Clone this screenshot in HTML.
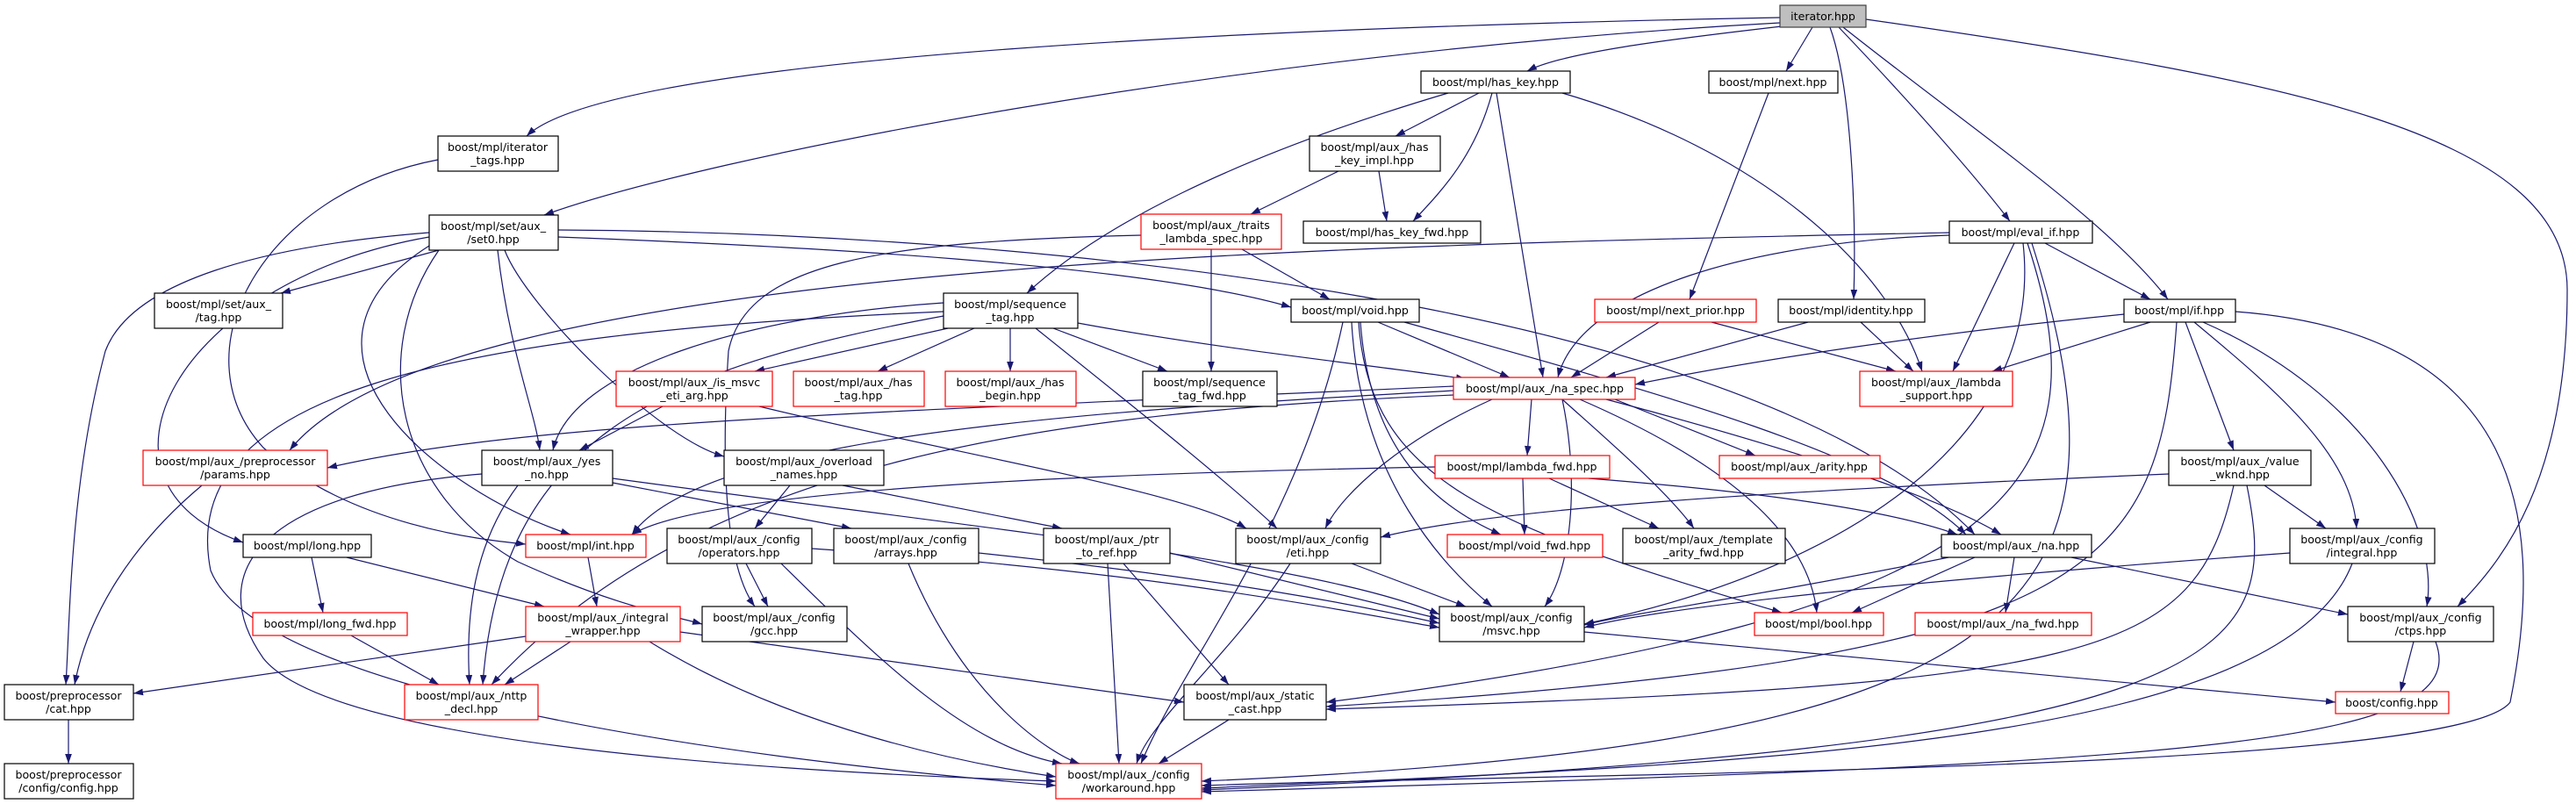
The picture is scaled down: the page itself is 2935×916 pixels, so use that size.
<!DOCTYPE html>
<html><head><meta charset="utf-8">
<style>
html,body{margin:0;padding:0;background:#fff;}
svg{display:block;}
text{font-family:"DejaVu Sans","Liberation Sans",sans-serif;font-size:12.6px;fill:#000;text-anchor:middle;}
#edges path{fill:none;stroke:#191970;stroke-width:1.2;marker-end:url(#ah);}
</style></head>
<body>
<svg xmlns="http://www.w3.org/2000/svg" width="2935" height="916" viewBox="0 0 2935 916">
<defs><marker id="ah" viewBox="0 0 10 7" refX="10" refY="3.5" markerWidth="11" markerHeight="8" markerUnits="userSpaceOnUse" orient="auto"><polygon points="0,0 10,3.5 0,7" fill="#191970"/></marker></defs>
<rect width="2935" height="916" fill="#fff"/>
<g id="edges">
<path d="M2028,20 C1500,30 700,60 600,155"/>
<path d="M2028,26 C1400,60 800,180 620,245"/>
<path d="M2030,30 C1900,45 1780,60 1740,81"/>
<path d="M2065,31 L2035,81"/>
<path d="M2085,31 C2110,100 2115,250 2112,341"/>
<path d="M2095,31 C2180,120 2250,200 2290,252"/>
<path d="M2100,31 C2250,150 2400,250 2470,341"/>
<path d="M2126,22 C2600,90 2925,150 2925,330 C2925,550 2850,640 2800,691"/>
<path d="M499,182 C300,220 200,400 300,510 C400,600 550,615 599,620"/>
<path d="M500,285 L320,334"/>
<path d="M567,285 C580,400 610,470 615,513"/>
<path d="M489,265 C300,280 150,320 120,400 C80,550 80,700 75,780"/>
<path d="M489,270 C200,320 80,550 277,618"/>
<path d="M575,285 C600,350 750,500 825,520"/>
<path d="M636,270 C900,280 1300,300 1471,350"/>
<path d="M636,262 C1200,265 2000,350 2250,609"/>
<path d="M500,285 C420,400 450,560 590,640 C700,690 760,700 800,711"/>
<path d="M489,280 C300,400 500,560 650,609"/>
<path d="M1685,106 L1590,155"/>
<path d="M1700,106 C1680,180 1640,220 1610,252"/>
<path d="M1705,106 L1758,430"/>
<path d="M1650,106 C1400,180 1250,260 1170,334"/>
<path d="M1780,106 C2000,170 2150,300 2190,423"/>
<path d="M1525,195 L1425,244"/>
<path d="M1571,195 L1580,252"/>
<path d="M1415,284 L1515,341"/>
<path d="M1380,284 L1380,423"/>
<path d="M1300,268 C1000,275 850,300 830,400 C820,550 830,650 860,691"/>
<path d="M2015,106 L1925,341"/>
<path d="M1890,367 L1790,430"/>
<path d="M1950,367 L2160,423"/>
<path d="M2060,367 L1830,430"/>
<path d="M2120,367 L2180,423"/>
<path d="M2330,277 L2450,341"/>
<path d="M2295,277 L2225,423"/>
<path d="M2221,268 C2000,275 1800,330 1775,430"/>
<path d="M2221,265 C1500,280 500,300 330,513"/>
<path d="M2305,277 C2330,500 2100,650 1805,711"/>
<path d="M2310,277 C2400,550 2300,700 1511,800"/>
<path d="M2315,277 C2450,700 2300,850 1369,890"/>
<path d="M2420,358 C2200,380 2000,410 1863,438"/>
<path d="M2450,367 L2270,423"/>
<path d="M2490,367 L2545,513"/>
<path d="M2500,367 C2600,450 2680,520 2685,602"/>
<path d="M2510,367 C2700,450 2780,600 2765,691"/>
<path d="M2480,367 C2460,650 2400,750 1511,805"/>
<path d="M2547,355 C2880,380 2900,600 2860,800 C2800,880 1800,880 1369,895"/>
<path d="M1110,374 L1000,423"/>
<path d="M1151,374 L1151,423"/>
<path d="M1200,374 L1330,423"/>
<path d="M1228,368 C1400,400 1600,420 1670,432"/>
<path d="M1080,374 L860,423"/>
<path d="M1075,345 C850,360 650,420 630,513"/>
<path d="M1180,374 C1300,470 1400,550 1455,602"/>
<path d="M1075,360 C750,420 570,500 550,780"/>
<path d="M1075,355 C500,380 200,450 240,650 C300,800 900,870 1203,895"/>
<path d="M1570,367 L1720,430"/>
<path d="M1550,367 C1560,500 1620,570 1710,609"/>
<path d="M1548,367 C1560,550 1700,600 2030,698"/>
<path d="M1530,367 C1480,600 1350,750 1300,870"/>
<path d="M1600,367 C1900,450 2150,520 2240,609"/>
<path d="M1540,367 C1550,550 1650,650 1700,691"/>
<path d="M755,463 L660,513"/>
<path d="M865,463 C1100,520 1350,560 1420,602"/>
<path d="M1656,440 C1000,470 600,480 373,533"/>
<path d="M1840,455 L2000,519"/>
<path d="M1745,455 L1740,519"/>
<path d="M1780,455 C1830,500 1900,560 1930,602"/>
<path d="M1700,455 C1600,500 1530,560 1510,602"/>
<path d="M1800,455 C1950,520 2060,600 2070,698"/>
<path d="M1830,455 C2000,500 2200,560 2280,609"/>
<path d="M1656,445 C1200,470 800,500 720,609"/>
<path d="M1780,455 C1800,550 1790,650 1760,691"/>
<path d="M1656,450 C1200,470 800,520 560,780"/>
<path d="M1735,545 L1737,609"/>
<path d="M1765,545 L1890,602"/>
<path d="M1810,545 C2000,560 2150,580 2230,609"/>
<path d="M1635,532 C1200,540 800,560 720,609"/>
<path d="M590,553 C540,620 530,700 535,780"/>
<path d="M698,545 C1100,600 1500,640 1640,700"/>
<path d="M698,550 L970,602"/>
<path d="M549,540 C300,560 230,650 300,750 C380,850 900,880 1203,890"/>
<path d="M900,553 L860,602"/>
<path d="M960,553 L1210,602"/>
<path d="M230,553 C150,620 100,700 85,780"/>
<path d="M355,635 L368,698"/>
<path d="M395,635 L620,691"/>
<path d="M670,635 L680,691"/>
<path d="M2471,540 C2000,560 1700,580 1573,612"/>
<path d="M2580,553 L2650,602"/>
<path d="M2545,553 C2500,750 2400,780 1511,808"/>
<path d="M2560,553 C2600,750 2550,850 1369,900"/>
<path d="M599,725 L152,790"/>
<path d="M650,731 L575,780"/>
<path d="M775,720 L1349,800"/>
<path d="M740,731 C900,830 1100,870 1203,885"/>
<path d="M850,642 L875,691"/>
<path d="M925,625 C1300,650 1500,690 1640,715"/>
<path d="M890,642 C1000,750 1100,850 1210,870"/>
<path d="M1115,630 C1400,660 1550,690 1640,710"/>
<path d="M1035,642 C1100,800 1200,860 1230,870"/>
<path d="M1333,630 L1640,705"/>
<path d="M1280,642 L1400,780"/>
<path d="M1262,642 L1275,870"/>
<path d="M1540,642 L1670,691"/>
<path d="M1470,642 C1400,750 1310,820 1295,870"/>
<path d="M2250,635 L2110,698"/>
<path d="M2295,635 L2285,698"/>
<path d="M2360,635 L2675,700"/>
<path d="M2220,635 C2000,680 1850,700 1805,712"/>
<path d="M2609,630 C2200,660 1900,690 1805,715"/>
<path d="M2680,642 C2600,850 2000,870 1369,898"/>
<path d="M1805,720 L2661,800"/>
<path d="M2750,731 L2735,788"/>
<path d="M2775,731 C2820,850 2500,870 1369,902"/>
<path d="M1400,820 L1320,870"/>
<path d="M400,724 L500,780"/>
<path d="M78,820 L78,870"/>
</g>
<g id="nodes">
<rect x="2028" y="6" width="98" height="25" fill="#bfbfbf" stroke="#404040" stroke-width="1.2"/><text x="2077" y="23">iterator.hpp</text>
<rect x="499" y="155" width="137" height="40" fill="#fff" stroke="#000" stroke-width="1.2"/><text x="567" y="172">boost/mpl/iterator</text><text x="567" y="187">_tags.hpp</text>
<rect x="489" y="245" width="147" height="40" fill="#fff" stroke="#000" stroke-width="1.2"/><text x="562" y="262">boost/mpl/set/aux_</text><text x="562" y="277">/set0.hpp</text>
<rect x="176" y="334" width="146" height="40" fill="#fff" stroke="#000" stroke-width="1.2"/><text x="249" y="351">boost/mpl/set/aux_</text><text x="249" y="366">/tag.hpp</text>
<rect x="702" y="423" width="178" height="40" fill="#fff" stroke="#f00" stroke-width="1.2"/><text x="791" y="440">boost/mpl/aux_/is_msvc</text><text x="791" y="455">_eti_arg.hpp</text>
<rect x="904" y="423" width="149" height="40" fill="#fff" stroke="#f00" stroke-width="1.2"/><text x="978" y="440">boost/mpl/aux_/has</text><text x="978" y="455">_tag.hpp</text>
<rect x="1619" y="81" width="170" height="25" fill="#fff" stroke="#000" stroke-width="1.2"/><text x="1704" y="98">boost/mpl/has_key.hpp</text>
<rect x="1947" y="81" width="147" height="25" fill="#fff" stroke="#000" stroke-width="1.2"/><text x="2020" y="98">boost/mpl/next.hpp</text>
<rect x="1492" y="155" width="149" height="40" fill="#fff" stroke="#000" stroke-width="1.2"/><text x="1566" y="172">boost/mpl/aux_/has</text><text x="1566" y="187">_key_impl.hpp</text>
<rect x="1300" y="244" width="160" height="40" fill="#fff" stroke="#f00" stroke-width="1.2"/><text x="1380" y="261">boost/mpl/aux_/traits</text><text x="1380" y="276">_lambda_spec.hpp</text>
<rect x="1485" y="252" width="202" height="25" fill="#fff" stroke="#000" stroke-width="1.2"/><text x="1586" y="269">boost/mpl/has_key_fwd.hpp</text>
<rect x="1075" y="334" width="153" height="40" fill="#fff" stroke="#000" stroke-width="1.2"/><text x="1151" y="351">boost/mpl/sequence</text><text x="1151" y="366">_tag.hpp</text>
<rect x="1471" y="341" width="146" height="26" fill="#fff" stroke="#000" stroke-width="1.2"/><text x="1544" y="358">boost/mpl/void.hpp</text>
<rect x="1817" y="341" width="184" height="26" fill="#fff" stroke="#f00" stroke-width="1.2"/><text x="1909" y="358">boost/mpl/next_prior.hpp</text>
<rect x="1077" y="423" width="149" height="40" fill="#fff" stroke="#f00" stroke-width="1.2"/><text x="1151" y="440">boost/mpl/aux_/has</text><text x="1151" y="455">_begin.hpp</text>
<rect x="1302" y="423" width="153" height="40" fill="#fff" stroke="#000" stroke-width="1.2"/><text x="1378" y="440">boost/mpl/sequence</text><text x="1378" y="455">_tag_fwd.hpp</text>
<rect x="1656" y="430" width="207" height="25" fill="#fff" stroke="#f00" stroke-width="1.2"/><text x="1760" y="447">boost/mpl/aux_/na_spec.hpp</text>
<rect x="2221" y="252" width="163" height="25" fill="#fff" stroke="#000" stroke-width="1.2"/><text x="2302" y="269">boost/mpl/eval_if.hpp</text>
<rect x="2026" y="341" width="167" height="26" fill="#fff" stroke="#000" stroke-width="1.2"/><text x="2109" y="358">boost/mpl/identity.hpp</text>
<rect x="2420" y="341" width="127" height="26" fill="#fff" stroke="#000" stroke-width="1.2"/><text x="2483" y="358">boost/mpl/if.hpp</text>
<rect x="2119" y="423" width="174" height="40" fill="#fff" stroke="#f00" stroke-width="1.2"/><text x="2206" y="440">boost/mpl/aux_/lambda</text><text x="2206" y="455">_support.hpp</text>
<rect x="163" y="513" width="210" height="40" fill="#fff" stroke="#f00" stroke-width="1.2"/><text x="268" y="530">boost/mpl/aux_/preprocessor</text><text x="268" y="545">/params.hpp</text>
<rect x="549" y="513" width="149" height="40" fill="#fff" stroke="#000" stroke-width="1.2"/><text x="623" y="530">boost/mpl/aux_/yes</text><text x="623" y="545">_no.hpp</text>
<rect x="825" y="513" width="182" height="40" fill="#fff" stroke="#000" stroke-width="1.2"/><text x="916" y="530">boost/mpl/aux_/overload</text><text x="916" y="545">_names.hpp</text>
<rect x="277" y="609" width="146" height="26" fill="#fff" stroke="#000" stroke-width="1.2"/><text x="350" y="626">boost/mpl/long.hpp</text>
<rect x="599" y="609" width="137" height="26" fill="#fff" stroke="#f00" stroke-width="1.2"/><text x="667" y="626">boost/mpl/int.hpp</text>
<rect x="760" y="602" width="165" height="40" fill="#fff" stroke="#000" stroke-width="1.2"/><text x="842" y="619">boost/mpl/aux_/config</text><text x="842" y="634">/operators.hpp</text>
<rect x="950" y="602" width="165" height="40" fill="#fff" stroke="#000" stroke-width="1.2"/><text x="1032" y="619">boost/mpl/aux_/config</text><text x="1032" y="634">/arrays.hpp</text>
<rect x="288" y="698" width="176" height="26" fill="#fff" stroke="#f00" stroke-width="1.2"/><text x="376" y="715">boost/mpl/long_fwd.hpp</text>
<rect x="599" y="691" width="176" height="40" fill="#fff" stroke="#f00" stroke-width="1.2"/><text x="687" y="708">boost/mpl/aux_/integral</text><text x="687" y="723">_wrapper.hpp</text>
<rect x="800" y="691" width="165" height="40" fill="#fff" stroke="#000" stroke-width="1.2"/><text x="882" y="708">boost/mpl/aux_/config</text><text x="882" y="723">/gcc.hpp</text>
<rect x="5" y="780" width="147" height="40" fill="#fff" stroke="#000" stroke-width="1.2"/><text x="78" y="797">boost/preprocessor</text><text x="78" y="812">/cat.hpp</text>
<rect x="461" y="780" width="152" height="40" fill="#fff" stroke="#f00" stroke-width="1.2"/><text x="537" y="797">boost/mpl/aux_/nttp</text><text x="537" y="812">_decl.hpp</text>
<rect x="5" y="870" width="147" height="40" fill="#fff" stroke="#000" stroke-width="1.2"/><text x="78" y="887">boost/preprocessor</text><text x="78" y="902">/config/config.hpp</text>
<rect x="1635" y="519" width="199" height="26" fill="#fff" stroke="#f00" stroke-width="1.2"/><text x="1734" y="536">boost/mpl/lambda_fwd.hpp</text>
<rect x="1959" y="519" width="183" height="26" fill="#fff" stroke="#f00" stroke-width="1.2"/><text x="2050" y="536">boost/mpl/aux_/arity.hpp</text>
<rect x="1189" y="602" width="144" height="40" fill="#fff" stroke="#000" stroke-width="1.2"/><text x="1261" y="619">boost/mpl/aux_/ptr</text><text x="1261" y="634">_to_ref.hpp</text>
<rect x="1408" y="602" width="165" height="40" fill="#fff" stroke="#000" stroke-width="1.2"/><text x="1490" y="619">boost/mpl/aux_/config</text><text x="1490" y="634">/eti.hpp</text>
<rect x="1649" y="609" width="177" height="26" fill="#fff" stroke="#f00" stroke-width="1.2"/><text x="1737" y="626">boost/mpl/void_fwd.hpp</text>
<rect x="1849" y="602" width="185" height="40" fill="#fff" stroke="#000" stroke-width="1.2"/><text x="1941" y="619">boost/mpl/aux_/template</text><text x="1941" y="634">_arity_fwd.hpp</text>
<rect x="1640" y="691" width="165" height="40" fill="#fff" stroke="#000" stroke-width="1.2"/><text x="1722" y="708">boost/mpl/aux_/config</text><text x="1722" y="723">/msvc.hpp</text>
<rect x="1349" y="780" width="162" height="40" fill="#fff" stroke="#000" stroke-width="1.2"/><text x="1430" y="797">boost/mpl/aux_/static</text><text x="1430" y="812">_cast.hpp</text>
<rect x="1203" y="870" width="166" height="40" fill="#fff" stroke="#f00" stroke-width="1.2"/><text x="1286" y="887">boost/mpl/aux_/config</text><text x="1286" y="902">/workaround.hpp</text>
<rect x="1999" y="698" width="147" height="26" fill="#fff" stroke="#f00" stroke-width="1.2"/><text x="2072" y="715">boost/mpl/bool.hpp</text>
<rect x="2471" y="513" width="162" height="40" fill="#fff" stroke="#000" stroke-width="1.2"/><text x="2552" y="530">boost/mpl/aux_/value</text><text x="2552" y="545">_wknd.hpp</text>
<rect x="2212" y="609" width="171" height="26" fill="#fff" stroke="#000" stroke-width="1.2"/><text x="2297" y="626">boost/mpl/aux_/na.hpp</text>
<rect x="2609" y="602" width="165" height="40" fill="#fff" stroke="#000" stroke-width="1.2"/><text x="2691" y="619">boost/mpl/aux_/config</text><text x="2691" y="634">/integral.hpp</text>
<rect x="2182" y="698" width="201" height="26" fill="#fff" stroke="#f00" stroke-width="1.2"/><text x="2282" y="715">boost/mpl/aux_/na_fwd.hpp</text>
<rect x="2675" y="691" width="166" height="40" fill="#fff" stroke="#000" stroke-width="1.2"/><text x="2758" y="708">boost/mpl/aux_/config</text><text x="2758" y="723">/ctps.hpp</text>
<rect x="2661" y="788" width="129" height="25" fill="#fff" stroke="#f00" stroke-width="1.2"/><text x="2725" y="805">boost/config.hpp</text>
</g>
</svg>
</body></html>
